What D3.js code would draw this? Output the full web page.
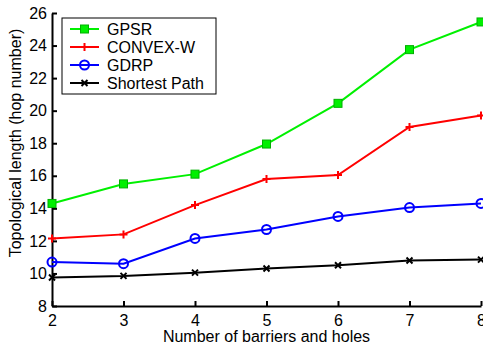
<!DOCTYPE html>
<html>
<head>
<meta charset="utf-8">
<script src="https://cdn.jsdelivr.net/npm/d3@7"></script>
<style>
  body { margin: 0; background: #fff; }
  text { font-family: "Liberation Sans", Arial, sans-serif; }
</style>
</head>
<body>
<svg id="chart" width="483" height="348"></svg>
<script>
// Data
const xValues = [2, 3, 4, 5, 6, 7, 8];
const gpsr = [14.3, 15.5, 16.1, 17.95, 20.45, 23.75, 25.45];
const convexW = [12.15, 12.4, 14.2, 15.8, 16.05, 19.0, 19.7];
const gdrp = [10.7, 10.6, 12.15, 12.7, 13.5, 14.05, 14.3];
const shortestPath = [9.75, 9.85, 10.05, 10.3, 10.5, 10.8, 10.85];
const yTicks = [8, 10, 12, 14, 16, 18, 20, 22, 24, 26];

const series = [
  { name: "GPSR", values: gpsr, color: "#00f000", marker: "square" },
  { name: "CONVEX-W", values: convexW, color: "#ff0000", marker: "plus" },
  { name: "GDRP", values: gdrp, color: "#0000ff", marker: "circle" },
  { name: "Shortest Path", values: shortestPath, color: "#000000", marker: "cross" }
];

const svg = d3.select("#chart");
const margin = { top: 13, right: 2, bottom: 42, left: 52 };
const width = 483, height = 348;
const innerWidth = width - margin.left - margin.right;
const innerHeight = height - margin.top - margin.bottom;

const g = svg.append("g")
  .attr("transform", `translate(${margin.left},${margin.top})`);

const x = d3.scaleLinear().domain([2, 8]).range([0, innerWidth]);
const y = d3.scaleLinear().domain([8, 26]).range([innerHeight, 0]);

// Axes (ticks pointing inward, like matlab)
const xAxis = g.append("g")
  .attr("transform", `translate(0,${innerHeight})`)
  .call(d3.axisBottom(x).tickValues(xValues).tickFormat(d3.format("d"))
    .tickSizeInner(-5).tickSizeOuter(0).tickPadding(9));

const yAxis = g.append("g")
  .call(d3.axisLeft(y).tickValues(yTicks).tickFormat(d3.format("d"))
    .tickSizeInner(-5).tickSizeOuter(0).tickPadding(5));

[xAxis, yAxis].forEach(a => {
  a.select(".domain").attr("stroke", "#000").attr("stroke-width", 2);
  a.selectAll(".tick line").attr("stroke", "#000").attr("stroke-width", 2);
  a.selectAll(".tick text").attr("font-size", 16).attr("fill", "#000");
});

// Axis labels
g.append("text")
  .attr("x", innerWidth / 2)
  .attr("y", innerHeight + 36)
  .attr("text-anchor", "middle")
  .attr("font-size", 16)
  .text("Number of barriers and holes");

g.append("text")
  .attr("transform", "rotate(-90)")
  .attr("x", -130)
  .attr("y", -31)
  .attr("text-anchor", "middle")
  .attr("font-size", 16)
  .text("Topological length (hop number)");

function drawMarker(sel, type, color) {
  if (type === "square") {
    sel.append("rect").attr("x", -4).attr("y", -4).attr("width", 8).attr("height", 8)
      .attr("fill", color).attr("stroke", "#00b000").attr("stroke-width", 1);
  } else if (type === "circle") {
    sel.append("circle").attr("r", 4.5).attr("fill", "none")
      .attr("stroke", color).attr("stroke-width", 2);
  } else if (type === "plus") {
    sel.append("path").attr("d", "M-4,0H4M0,-4V4")
      .attr("stroke", color).attr("stroke-width", 2);
  } else {
    sel.append("path").attr("d", "M-3,-3L3,3M-3,3L3,-3")
      .attr("stroke", color).attr("stroke-width", 2);
  }
}

const line = d3.line()
  .x((d, i) => x(xValues[i]))
  .y(d => y(d));

series.forEach(s => {
  g.append("path")
    .datum(s.values)
    .attr("fill", "none")
    .attr("stroke", s.color)
    .attr("stroke-width", 2)
    .attr("d", line);

  g.selectAll(null)
    .data(s.values)
    .join("g")
    .attr("transform", (d, i) => `translate(${x(xValues[i])},${y(d)})`)
    .each(function () { drawMarker(d3.select(this), s.marker, s.color); });
});

// Legend
const legend = svg.append("g").attr("transform", "translate(62,18)");
legend.append("rect")
  .attr("width", 154).attr("height", 76)
  .attr("fill", "#fff").attr("stroke", "#000").attr("stroke-width", 1);

series.forEach((s, i) => {
  const row = legend.append("g").attr("transform", `translate(0,${11 + i * 18})`);
  row.append("line").attr("x1", 8).attr("x2", 37)
    .attr("stroke", s.color).attr("stroke-width", 2);
  drawMarker(row.append("g").attr("transform", "translate(22.5,0)"), s.marker, s.color);
  row.append("text").attr("x", 45).attr("y", 5.5)
    .attr("font-size", 16).text(s.name);
});
</script>
</body>
</html>
